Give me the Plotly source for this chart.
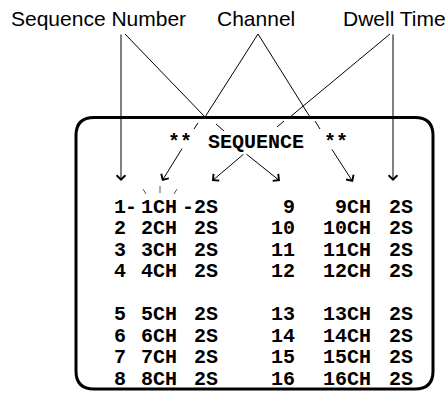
import plotly.graph_objects as go

# ---- data ----
header_labels = ["Sequence Number", "Channel", "Dwell Time"]
title_text = ["**", "SEQUENCE", "**"]
left_seq = ["1", "2", "3", "4", "5", "6", "7", "8"]
left_ch = ["1CH", "2CH", "3CH", "4CH", "5CH", "6CH", "7CH", "8CH"]
left_dwell = ["2S", "2S", "2S", "2S", "2S", "2S", "2S", "2S"]
right_seq = ["9", "10", "11", "12", "13", "14", "15", "16"]
right_ch = ["9CH", "10CH", "11CH", "12CH", "13CH", "14CH", "15CH", "16CH"]
right_dwell = ["2S", "2S", "2S", "2S", "2S", "2S", "2S", "2S"]

# ---- layout constants ----
W, H = 448, 396
MONO = "Courier New, Liberation Mono, monospace"
SANS = "Arial, Liberation Sans, sans-serif"
MONO_SIZE = 20
ROW0, ROW_STEP = 207.5, 21.45

def row_y(i):
    return ROW0 + ROW_STEP * (i + (1 if i >= 4 else 0))

fig = go.Figure()
annotations = []
shapes = []

def txt(x, y, s, anchor="center", font=MONO, size=MONO_SIZE, bold=True):
    annotations.append(dict(
        x=x, y=y, xref="x", yref="y", text=("<b>%s</b>" % s) if bold else s,
        showarrow=False, xanchor=anchor, yanchor="middle",
        font=dict(family=font, size=size, color="black"), borderpad=0))

def line(x0, y0, x1, y1, w=1.0, dash="solid", color="black"):
    shapes.append(dict(type="line", xref="x", yref="y", x0=x0, y0=y0, x1=x1, y1=y1,
                       line=dict(color=color, width=w, dash=dash)))

def arrow(x0, y0, x1, y1):
    annotations.append(dict(
        x=x1, y=y1, ax=x0, ay=y0, xref="x", yref="y", axref="x", ayref="y",
        text="", showarrow=True, arrowhead=4, arrowsize=1.7, arrowwidth=1,
        arrowcolor="black", standoff=0, startstandoff=0))

# header labels
for lbl, cx in zip(header_labels, [98, 256, 394]):
    txt(cx, 18, lbl, font=SANS, size=21, bold=False)

# rounded box
L, R, T, B, r = 76, 433, 117.5, 389, 18
path = (f"M {L+r},{T} L {R-r},{T} Q {R},{T} {R},{T+r} L {R},{B-r} Q {R},{B} {R-r},{B} "
        f"L {L+r},{B} Q {L},{B} {L},{B-r} L {L},{T+r} Q {L},{T} {L+r},{T} Z")
shapes.append(dict(type="path", xref="x", yref="y", path=path,
                   line=dict(color="black", width=3)))

# title line
txt(180, 142, title_text[0])
txt(256, 142, title_text[1])
txt(336, 142, title_text[2])

# table rows
for i in range(8):
    y = row_y(i)
    txt(120, y, left_seq[i], "center")
    txt(178, y, left_ch[i], "right")
    txt(193, y, left_dwell[i], "left")
    txt(296, y, right_seq[i], "right")
    txt(372, y, right_ch[i], "right")
    txt(388, y, right_dwell[i], "left")
# dashes in first row
txt(131, row_y(0), "-", "center")
txt(188, row_y(0), "-", "center")
# small tick marks above 1CH
line(143, 189, 146, 194, w=1, color="#555")
line(160, 186, 160, 193, w=1, color="#555")
line(177, 189, 174, 194, w=1, color="#555")

# leader lines: Sequence Number
arrow(121, 33, 121, 181)
line(125, 34, 205, 117)
line(216, 124, 224, 131)
arrow(245, 153, 280, 181)
# Channel
line(258, 34, 205, 117)
line(198, 123, 194, 129)
arrow(183, 147, 162, 181)
line(258, 34, 310, 117)
line(315, 121, 320, 129)
arrow(331, 148, 353, 182)
# Dwell Time
arrow(393, 33, 393, 181)
line(390, 34, 290, 117)
line(284, 121, 277, 127)
arrow(245, 153, 212, 181)

fig.update_layout(
    width=W, height=H, margin=dict(l=0, r=0, t=0, b=0),
    paper_bgcolor="white", plot_bgcolor="white",
    xaxis=dict(range=[0, W], visible=False, fixedrange=True),
    yaxis=dict(range=[H, 0], visible=False, fixedrange=True),
    showlegend=False, annotations=annotations, shapes=shapes,
)
fig.write_html("out.html", config={"displayModeBar": False},
               post_script="document.body.style.margin='0px';")
